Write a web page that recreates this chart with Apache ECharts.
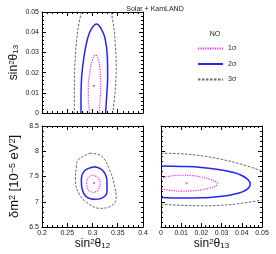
<!DOCTYPE html>
<html><head><meta charset="utf-8">
<script src="https://cdn.jsdelivr.net/npm/echarts@6/dist/echarts.min.js"></script>
<style>html,body{margin:0;padding:0;background:#fff}#c{width:276px;height:254px}</style>
</head><body><div id="c"></div>
<script>
// ---- data ----
const levels = ['1σ', '2σ', '3σ'];
// top-left panel: sin^2 theta12 (x) vs sin^2 theta13 (y)
const tl1 = [[0.294,0],[0.2937,0.0015],[0.2917,0.0064],[0.2917,0.013],[0.295,0.0205],[0.2997,0.0262],[0.3063,0.0287],[0.3116,0.0262],[0.3149,0.0213],[0.3162,0.0147],[0.3155,0.0081],[0.3135,0.0015],[0.313,0]];
const tl2 = [[0.2772,0],[0.2772,0.0081],[0.2786,0.018],[0.2832,0.0279],[0.2904,0.037],[0.2984,0.0419],[0.3083,0.0441],[0.3168,0.0419],[0.3248,0.037],[0.3294,0.0279],[0.330,0.018],[0.328,0.0081],[0.326,0]];
const tl3Left = [[0.278,0.05],[0.272,0.0427],[0.268,0.0345],[0.265,0.023],[0.264,0.0114],[0.264,0]];
const tl3Right = [[0.337,0.05],[0.342,0.0427],[0.345,0.0345],[0.347,0.023],[0.345,0.0114],[0.340,0]];
const tlBest = [0.303, 0.0134];
// bottom-left panel: sin^2 theta12 (x) vs dm^2 (y)
const bl1 = [[0.301,7.53],[0.3122,7.464],[0.3149,7.351],[0.3109,7.233],[0.301,7.187],[0.291,7.246],[0.2885,7.365],[0.2925,7.484],[0.301,7.53]];
const bl2 = [[0.3043,7.694],[0.3208,7.615],[0.3287,7.397],[0.3287,7.199],[0.3175,7.068],[0.3043,7.048],[0.2878,7.1],[0.2792,7.266],[0.2779,7.43],[0.2845,7.615],[0.3043,7.694]];
const bl3 = [[0.2944,7.96],[0.3175,7.906],[0.334,7.629],[0.344,7.298],[0.347,7.068],[0.337,6.916],[0.314,6.87],[0.291,6.969],[0.2746,7.134],[0.266,7.43],[0.268,7.694],[0.2713,7.827],[0.2944,7.96]];
const blBest = [0.303, 7.37];
// bottom-right panel: sin^2 theta13 (x) vs dm^2 (y)
const br1 = [[0,7.47],[0.005,7.51],[0.01,7.525],[0.015,7.52],[0.02,7.49],[0.024,7.45],[0.027,7.40],[0.028,7.36],[0.027,7.31],[0.024,7.27],[0.02,7.235],[0.015,7.215],[0.01,7.21],[0.005,7.225],[0,7.25]];
const br2 = [[0,7.71],[0.01,7.70],[0.02,7.68],[0.03,7.63],[0.036,7.58],[0.04,7.52],[0.043,7.44],[0.0442,7.35],[0.043,7.26],[0.04,7.19],[0.035,7.14],[0.03,7.11],[0.02,7.08],[0.01,7.075],[0,7.085]];
const br3Top = [[0,7.96],[0.01,7.95],[0.02,7.91],[0.03,7.84],[0.04,7.74],[0.05,7.61]];
const br3Bottom = [[0,6.95],[0.01,6.93],[0.02,6.92],[0.03,6.93],[0.04,6.97],[0.05,7.035]];
const brBest = [0.0127, 7.365];
// axis ranges [min, max, major interval, minor interval]
const s12Range = [0.2, 0.4, 0.05, 0.01];
const s13Range = [0, 0.05, 0.01, 0.002];
const dmRange = [6.5, 8.5, 0.5, 0.1];

// ---- chart ----
const FONT = 'Liberation Sans, Arial, sans-serif';
const PANEL = 101;
const fmt = v => String(parseFloat((+v).toFixed(4)));
function rich(big, small) {
  return {
    a: {fontSize: big, fontFamily: FONT, color: '#111', verticalAlign: 'middle'},
    s: {fontSize: small, fontFamily: FONT, color: '#111', verticalAlign: 'top'},
    b: {fontSize: small, fontFamily: FONT, color: '#111', verticalAlign: 'bottom'}
  };
}
// tick marks on both edges: a grid-spanning split line dashed only at its two ends
function edgeDash(len) { return [len, PANEL - 2 * len, len]; }
// frame axis: axis line, labels / name, major edge ticks
function mkAxis(grid, range, position, showLabel, name, nameGap, richStyle) {
  const ax = {
    type: 'value', gridIndex: grid, position: position,
    min: range[0], max: range[1], interval: range[2],
    axisLine: {show: true, onZero: false, lineStyle: {color: '#000', width: 1}},
    axisTick: {show: false},
    splitLine: {show: true, lineStyle: {color: '#000', width: 1, type: edgeDash(4)}},
    axisLabel: {show: showLabel, fontSize: 7, fontFamily: FONT, color: '#222', margin: 3, formatter: fmt}
  };
  if (name) {
    ax.name = name; ax.nameLocation = 'middle'; ax.nameGap = nameGap;
    ax.nameTextStyle = {rich: richStyle || rich(12, 8)};
    if (position === 'left') ax.nameRotate = 90;
  }
  return ax;
}
// opposite frame side (line only)
function mkFrame(grid, range, position) {
  return {
    type: 'value', gridIndex: grid, position: position,
    min: range[0], max: range[1], interval: range[2],
    axisLine: {show: true, onZero: false, lineStyle: {color: '#000', width: 1}},
    axisTick: {show: false}, splitLine: {show: false}, axisLabel: {show: false}
  };
}
// minor edge ticks
function mkMinor(grid, range, position) {
  return {
    type: 'value', gridIndex: grid, position: position,
    min: range[0], max: range[1], interval: range[3],
    axisLine: {show: false, onZero: false}, axisTick: {show: false}, axisLabel: {show: false},
    splitLine: {show: true, lineStyle: {color: '#000', width: 1, type: edgeDash(2)}}
  };
}
const xRanges = [s12Range, s12Range, s13Range];
const yRanges = [s13Range, dmRange, dmRange];
const xAxis = [
  mkAxis(0, s12Range, 'bottom', false),
  mkAxis(1, s12Range, 'bottom', true, '{a|sin}{s|2}{a|θ}{b|12}', 11),
  mkAxis(2, s13Range, 'bottom', true, '{a|sin}{s|2}{a|θ}{b|13}', 11)
];
const yAxis = [
  mkAxis(0, s13Range, 'left', true, '{a|sin}{s|2}{a|θ}{b|13}', 22),
  mkAxis(1, dmRange, 'left', true, '{a|δm}{s|2}{a| [10}{s|−5}{a| eV}{s|2}{a|]}', 21, rich(13, 9)),
  mkAxis(2, dmRange, 'left', false)
];
for (let g = 0; g < 3; g++) {
  xAxis.push(mkFrame(g, xRanges[g], 'top'));
  yAxis.push(mkFrame(g, yRanges[g], 'right'));
  xAxis.push(mkMinor(g, xRanges[g], 'top'));
  yAxis.push(mkMinor(g, yRanges[g], 'right'));
}
const styles = [
  {color: '#ff22ff', width: 1.2, type: [1.2, 1.2]},
  {color: '#2525ee', width: 1.5, type: 'solid'},
  {color: '#666666', width: 1, type: [2.5, 1.5]}
];
function line(name, data, gi, lvl) {
  return {type: 'line', name: name, xAxisIndex: gi, yAxisIndex: gi, data: data,
    smooth: 0.4, symbol: 'none', showSymbol: false, connectNulls: false, clip: true,
    lineStyle: styles[lvl], itemStyle: {color: styles[lvl].color}, animation: false, silent: true};
}
function best(p, gi) {
  return {type: 'scatter', name: 'best', xAxisIndex: gi, yAxisIndex: gi, data: [p],
    symbol: 'rect', symbolSize: 2, itemStyle: {color: '#ff5050'}, animation: false, silent: true};
}
const series = [
  line(levels[2], tl3Left.concat([['-', '-']], tl3Right), 0, 2),
  line(levels[1], tl2, 0, 1),
  line(levels[0], tl1, 0, 0),
  best(tlBest, 0),
  line(levels[2], bl3, 1, 2),
  line(levels[1], bl2, 1, 1),
  line(levels[0], bl1, 1, 0),
  best(blBest, 1),
  line(levels[2], br3Top.concat([['-', '-']], br3Bottom), 2, 2),
  line(levels[1], br2, 2, 1),
  line(levels[0], br1, 2, 0),
  best(brBest, 2)
];
const chart = echarts.init(document.getElementById('c'), null, {renderer: 'canvas'});
chart.setOption({
  animation: false,
  backgroundColor: '#fff',
  title: [
    {text: 'Solar + KamLAND', left: 150, top: 1, textAlign: 'center',
     textStyle: {fontSize: 7, fontWeight: 'normal', fontFamily: FONT, color: '#222'}},
    {text: 'NO', left: 210, top: 26, textAlign: 'center',
     textStyle: {fontSize: 7, fontWeight: 'normal', fontFamily: FONT, color: '#222'}}
  ],
  legend: {data: levels, orient: 'vertical', left: 192, top: 40, itemWidth: 25, itemHeight: 8, itemGap: 8.5,
    itemStyle: {opacity: 0},
    textStyle: {fontSize: 7, fontFamily: FONT, color: '#222'}, selectedMode: false},
  grid: [
    {left: 42, top: 12, width: PANEL, height: PANEL},
    {left: 42, top: 126, width: PANEL, height: PANEL},
    {left: 161, top: 126, width: PANEL, height: PANEL}
  ],
  xAxis: xAxis, yAxis: yAxis, series: series
});
</script></body></html>
